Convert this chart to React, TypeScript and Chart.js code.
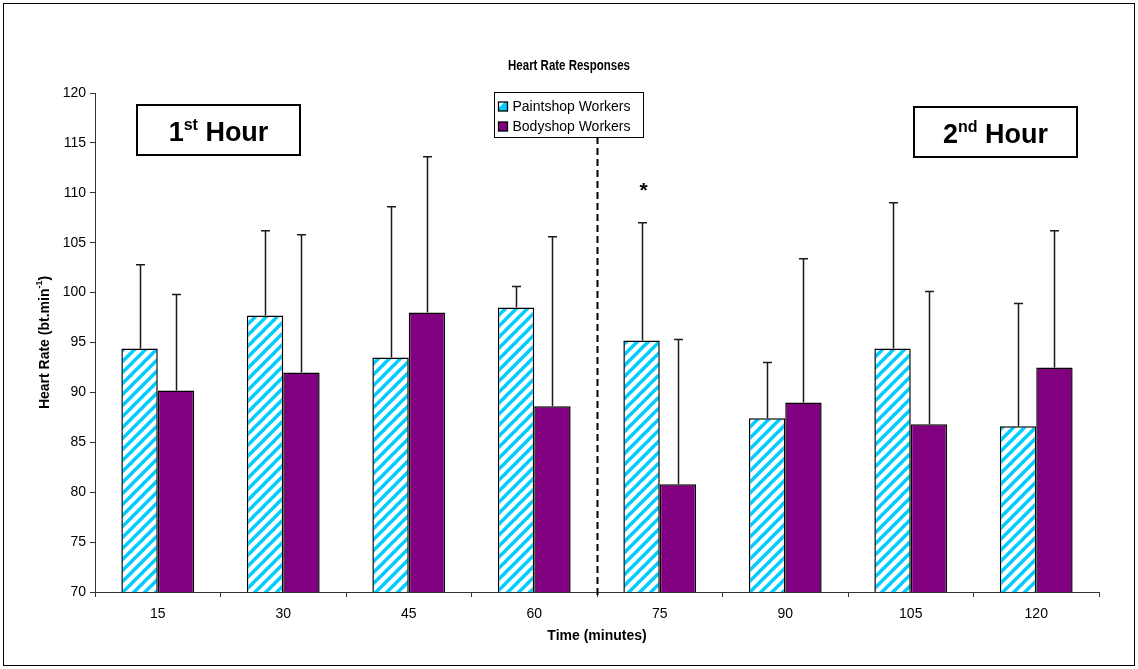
import React, { useEffect, useRef } from "react";
import { Chart, registerables } from "chart.js";

Chart.register(...registerables);

// Time points (minutes) on the x axis
const timePoints = ["15", "30", "45", "60", "75", "90", "105", "120"];

// Mean heart rate (bt/min) per group
const paintshopMean = [94.4, 97.7, 93.5, 98.5, 95.2, 87.4, 94.4, 86.6];
const bodyshopMean = [90.2, 92.0, 98.0, 88.6, 80.8, 89.0, 86.8, 92.5];

// Standard deviations (upper whisker only)
const paintshopSD = [8.4, 8.5, 15.1, 2.1, 11.8, 5.6, 14.6, 12.3];
const bodyshopSD = [9.6, 13.8, 15.6, 17.0, 14.5, 14.4, 13.3, 13.7];

const seriesNames = ["Paintshop Workers", "Bodyshop Workers"];

// Y axis range
const yMin = 70;
const yMax = 120;
const yStep = 5;

// Significant difference marker (index into timePoints)
const significantIndex = 4;

// Hour split sits between these two time points
const hourSplitAfter = 3;

const FONT = "'Liberation Sans', Arial, Helvetica, sans-serif";
const HATCH = "#00CCFF";
const PURPLE = "#800080";

function makeHatch(): CanvasPattern | string {
  const s = 11;
  const c = document.createElement("canvas");
  c.width = s;
  c.height = s;
  const g = c.getContext("2d");
  if (!g) return HATCH;
  g.fillStyle = "#ffffff";
  g.fillRect(0, 0, s, s);
  g.strokeStyle = HATCH;
  g.lineWidth = 3.4;
  for (const o of [-s, 0, s]) {
    g.beginPath();
    g.moveTo(o - 1, s + 1);
    g.lineTo(o + s + 1, -1);
    g.stroke();
  }
  return g.createPattern(c, "repeat") || HATCH;
}

function drawSupText(
  ctx: CanvasRenderingContext2D,
  parts: [string, string, string],
  cx: number,
  baseline: number,
  size: number,
  supSize: number,
  supRise: number
) {
  ctx.save();
  ctx.fillStyle = "#000";
  ctx.textBaseline = "alphabetic";
  ctx.textAlign = "left";
  const big = `bold ${size}px ${FONT}`;
  const small = `bold ${supSize}px ${FONT}`;
  ctx.font = big;
  const w1 = ctx.measureText(parts[0]).width;
  const w3 = ctx.measureText(parts[2]).width;
  ctx.font = small;
  const w2 = ctx.measureText(parts[1]).width;
  let x = cx - (w1 + w2 + w3) / 2;
  ctx.font = big;
  ctx.fillText(parts[0], x, baseline);
  x += w1;
  ctx.font = small;
  ctx.fillText(parts[1], x, baseline - supRise);
  x += w2;
  ctx.font = big;
  ctx.fillText(parts[2], x, baseline);
  ctx.restore();
}

const overlayPlugin = {
  id: "heartRateOverlay",
  beforeDraw(chart: any) {
    const { ctx, width, height } = chart;
    ctx.save();
    ctx.fillStyle = "#fff";
    ctx.fillRect(0, 0, width, height);
    ctx.strokeStyle = "#000";
    ctx.lineWidth = 1;
    ctx.strokeRect(3.5, 3.5, width - 7, height - 7);
    ctx.restore();
  },
  afterDatasetsDraw(chart: any) {
    const { ctx, chartArea } = chart;
    const yScale = chart.scales.y;
    const xScale = chart.scales.x;
    const sds = [paintshopSD, bodyshopSD];
    const means = [paintshopMean, bodyshopMean];

    // Upper error whiskers
    ctx.save();
    ctx.strokeStyle = "#1a1a1a";
    ctx.lineWidth = 1.5;
    chart.data.datasets.forEach((_: any, di: number) => {
      const meta = chart.getDatasetMeta(di);
      meta.data.forEach((bar: any, i: number) => {
        const top = yScale.getPixelForValue(means[di][i] + sds[di][i]);
        const x = Math.round(bar.x) + 0.5;
        ctx.beginPath();
        ctx.moveTo(x, bar.y);
        ctx.lineTo(x, top);
        ctx.moveTo(x - 4.5, top);
        ctx.lineTo(x + 4.5, top);
        ctx.stroke();
      });
    });
    ctx.restore();

    // Dashed divider between the two hours
    const xd = Math.round(xScale.getPixelForValue(hourSplitAfter + 0.5)) + 0.5;
    ctx.save();
    ctx.strokeStyle = "#000";
    ctx.lineWidth = 2;
    ctx.setLineDash([7, 4]);
    ctx.beginPath();
    ctx.moveTo(xd, chartArea.top);
    ctx.lineTo(xd, chartArea.bottom + 6);
    ctx.stroke();
    ctx.restore();

    // Significance asterisk
    const starBar = chart.getDatasetMeta(0).data[significantIndex];
    const starTop = yScale.getPixelForValue(
      paintshopMean[significantIndex] + paintshopSD[significantIndex]
    );
    ctx.save();
    ctx.fillStyle = "#000";
    ctx.font = `bold 21px ${FONT}`;
    ctx.textAlign = "center";
    ctx.textBaseline = "alphabetic";
    ctx.fillText("*", starBar.x + 2, starTop - 26);
    ctx.restore();
  },
  afterDraw(chart: any) {
    const { ctx, chartArea, width } = chart;

    // Title (slightly condensed bold face)
    ctx.save();
    ctx.fillStyle = "#000";
    ctx.font = `bold 14px ${FONT}`;
    ctx.textAlign = "center";
    ctx.textBaseline = "middle";
    ctx.translate(width / 2, 66);
    ctx.scale(0.82, 1);
    ctx.fillText("Heart Rate Responses", 0, 0);
    ctx.restore();

    // Y axis title with superscript
    ctx.save();
    ctx.translate(45, (chartArea.top + chartArea.bottom) / 2);
    ctx.rotate(-Math.PI / 2);
    ctx.fillStyle = "#000";
    ctx.textBaseline = "middle";
    ctx.textAlign = "left";
    const main = `bold 14px ${FONT}`;
    const sup = `bold 9px ${FONT}`;
    ctx.font = main;
    const a = "Heart Rate (bt.min";
    const c = ")";
    const wa = ctx.measureText(a).width;
    const wc = ctx.measureText(c).width;
    ctx.font = sup;
    const b = "-1";
    const wb = ctx.measureText(b).width;
    let x = -(wa + wb + wc) / 2;
    ctx.font = main;
    ctx.fillText(a, x, 0);
    x += wa;
    ctx.font = sup;
    ctx.fillText(b, x, -5);
    x += wb;
    ctx.font = main;
    ctx.fillText(c, x, 0);
    ctx.restore();

    // Legend
    const lgW = 149;
    const lgH = 45;
    const lgX = 494.5;
    const lgY = chartArea.top - 0.5;
    ctx.save();
    ctx.fillStyle = "#fff";
    ctx.fillRect(lgX, lgY, lgW, lgH);
    ctx.strokeStyle = "#000";
    ctx.lineWidth = 1;
    ctx.strokeRect(lgX, lgY, lgW, lgH);
    ctx.font = `14px ${FONT}`;
    ctx.textBaseline = "middle";
    ctx.textAlign = "left";
    chart.data.datasets.forEach((ds: any, i: number) => {
      const cy = lgY + 14 + i * 20;
      const mx = lgX + 4;
      ctx.fillStyle = i === 0 ? HATCH : PURPLE;
      ctx.fillRect(mx, cy - 4.5, 9, 9);
      if (i === 0) {
        ctx.fillStyle = "#fff";
        ctx.beginPath();
        ctx.moveTo(mx, cy - 4.5);
        ctx.lineTo(mx + 6, cy - 4.5);
        ctx.lineTo(mx, cy + 1.5);
        ctx.closePath();
        ctx.fill();
      }
      ctx.strokeStyle = "#000";
      ctx.lineWidth = 1.3;
      ctx.strokeRect(mx, cy - 4.5, 9, 9);
      ctx.fillStyle = "#000";
      ctx.fillText(ds.label, mx + 14, cy + 0.5);
    });
    ctx.restore();

    // Hour boxes
    const boxW = 163;
    const boxH = 50;
    const boxes = [
      { x: 137, y: chartArea.top + 12, parts: ["1", "st", " Hour"] as [string, string, string] },
      { x: chartArea.right - 22 - boxW, y: chartArea.top + 14, parts: ["2", "nd", " Hour"] as [string, string, string] },
    ];
    boxes.forEach((bx) => {
      ctx.save();
      ctx.fillStyle = "#fff";
      ctx.fillRect(bx.x, bx.y, boxW, boxH);
      ctx.strokeStyle = "#000";
      ctx.lineWidth = 2;
      ctx.strokeRect(bx.x, bx.y, boxW, boxH);
      ctx.restore();
      drawSupText(ctx, bx.parts, bx.x + boxW / 2, bx.y + 36, 27, 16, 11);
    });
  },
};

export default function App() {
  const canvasRef = useRef<HTMLCanvasElement | null>(null);

  useEffect(() => {
    const canvas = canvasRef.current;
    if (!canvas) return;
    Chart.defaults.font.family = FONT;
    Chart.defaults.color = "#000";
    const hatch = makeHatch();

    const chart = new Chart(canvas, {
      type: "bar",
      data: {
        labels: timePoints,
        datasets: [
          {
            label: seriesNames[0],
            data: paintshopMean,
            backgroundColor: hatch as any,
            borderColor: "#000",
            borderWidth: 1.5,
            borderSkipped: false,
            categoryPercentage: 0.58,
            barPercentage: 1,
          },
          {
            label: seriesNames[1],
            data: bodyshopMean,
            backgroundColor: PURPLE,
            borderColor: "#000",
            borderWidth: 1.5,
            borderSkipped: false,
            categoryPercentage: 0.58,
            barPercentage: 1,
          },
        ],
      },
      options: {
        responsive: false,
        animation: false,
        devicePixelRatio: 1,
        layout: { padding: { top: 93, right: 39, bottom: 0, left: 0 } },
        plugins: {
          legend: { display: false },
          title: { display: false },
          tooltip: { enabled: false },
        },
        scales: {
          x: {
            offset: true,
            grid: {
              offset: true,
              drawOnChartArea: false,
              drawTicks: true,
              tickLength: 5,
              color: "#333",
            },
            border: { display: true, color: "#333", width: 1 },
            ticks: {
              font: { size: 14, family: FONT },
              color: "#000",
              padding: 9,
              maxRotation: 0,
            },
            title: {
              display: true,
              text: "Time (minutes)",
              font: { size: 14, weight: "bold", family: FONT },
              color: "#000",
              padding: { top: 0, bottom: 24 },
            },
            afterFit: (scale: any) => {
              scale.height = 77;
            },
          },
          y: {
            min: yMin,
            max: yMax,
            grid: {
              drawOnChartArea: false,
              drawTicks: true,
              tickLength: 5,
              color: "#333",
            },
            border: { display: true, color: "#333", width: 1 },
            ticks: {
              stepSize: yStep,
              font: { size: 14, family: FONT },
              color: "#000",
              padding: 4,
            },
            afterFit: (scale: any) => {
              scale.width = 95;
            },
          },
        },
      },
      plugins: [overlayPlugin],
    });

    return () => chart.destroy();
  }, []);

  return (
    <div style={{ position: "absolute", left: 0, top: 0, width: 1138, height: 669, background: "#fff" }}>
      <canvas ref={canvasRef} width={1138} height={669} style={{ display: "block" }} />
    </div>
  );
}
